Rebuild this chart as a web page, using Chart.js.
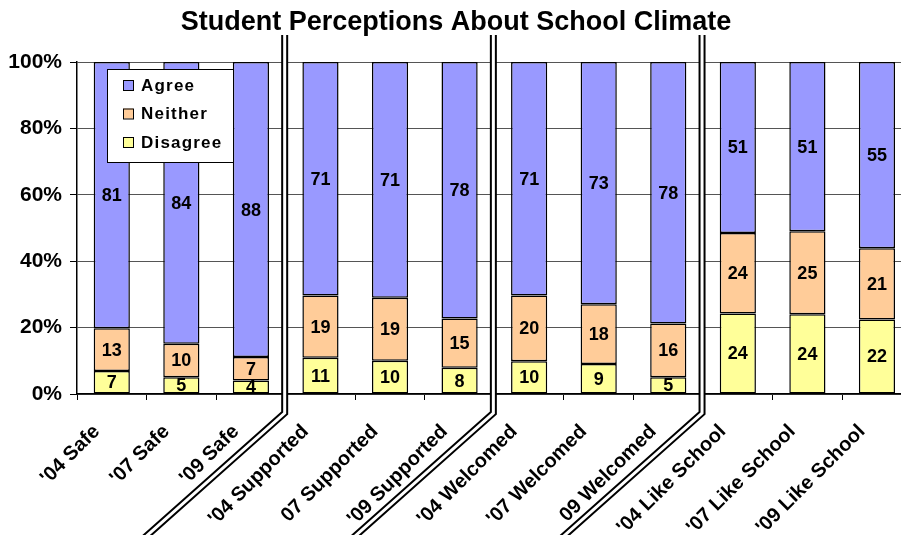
<!DOCTYPE html>
<html lang="en">
<head>
    <meta charset="UTF-8">
    <title>Student Perceptions About School Climate</title>
    <script src="https://cdn.jsdelivr.net/npm/chart.js"></script>
    <style>
        body {
            margin: 0;
            padding: 0;
            background: #fff;
            overflow: hidden;
        }

        .chart-container {
            width: 914px;
            height: 535px;
        }
    </style>
</head>
<body>
    <div class="chart-container">
        <canvas id="climateChart" width="914" height="535"></canvas>
    </div>

    <script>
        // Survey results (percent of students)
        const categories = ["'04 Safe", "'07 Safe", "'09 Safe", "'04 Supported", "07 Supported", "'09 Supported",
            "'04 Welcomed", "'07 Welcomed", "09 Welcomed", "'04 Like School", "'07 Like School", "'09 Like School"];
        const disagree = [7, 5, 4, 11, 10, 8, 10, 9, 5, 24, 24, 22];
        const neither = [13, 10, 7, 19, 19, 15, 20, 18, 16, 24, 25, 21];
        const agree = [81, 84, 88, 71, 71, 78, 71, 73, 78, 51, 51, 55];
        const groupBreaks = [3, 6, 9]; // double lines before these categories

        // stacked to 100%
        const totals = categories.map((c, i) => disagree[i] + neither[i] + agree[i]);
        const toPct = arr => arr.map((v, i) => v / totals[i] * 100);

        const font = 'Arial, "Liberation Sans", sans-serif';

        // value labels inside each segment
        const valueLabels = {
            id: 'valueLabels',
            afterDatasetsDraw(chart) {
                const ctx = chart.ctx;
                ctx.save();
                ctx.font = 'bold 18px ' + font;
                ctx.fillStyle = '#000';
                ctx.textAlign = 'center';
                ctx.textBaseline = 'middle';
                chart.data.datasets.forEach((ds, di) => {
                    chart.getDatasetMeta(di).data.forEach((bar, i) => {
                        const p = bar.getCenterPoint();
                        ctx.fillText(ds.raw[i], p.x, p.y + 1);
                    });
                });
                ctx.restore();
            }
        };

        // double separator lines between groups
        const separators = {
            id: 'separators',
            afterDraw(chart) {
                const ctx = chart.ctx;
                const x = chart.scales.x;
                const bottom = chart.chartArea.bottom;
                ctx.save();
                groupBreaks.forEach(b => {
                    const px = (x.getPixelForValue(b - 1) + x.getPixelForValue(b)) / 2 - 1;
                    const path = () => {
                        ctx.beginPath();
                        ctx.moveTo(px, 35);
                        ctx.lineTo(px, bottom + 19);
                        ctx.lineTo(px - 200, bottom + 19 + 178);
                    };
                    ctx.lineJoin = 'miter';
                    ctx.strokeStyle = '#000';
                    ctx.lineWidth = 7;
                    path();
                    ctx.stroke();
                    ctx.strokeStyle = '#fff';
                    ctx.lineWidth = 3;
                    path();
                    ctx.stroke();
                });
                ctx.restore();
            }
        };

        // boxed legend inside the plot
        const boxLegend = {
            id: 'boxLegend',
            afterDraw(chart) {
                const ctx = chart.ctx;
                const area = chart.chartArea;
                const left = area.left + 30, top = area.top + 7;
                ctx.save();
                ctx.fillStyle = '#fff';
                ctx.fillRect(left, top, 126, 93);
                ctx.strokeStyle = '#000';
                ctx.lineWidth = 1;
                ctx.strokeRect(left + 0.5, top + 0.5, 126, 93);
                ctx.font = 'bold 17px ' + font;
                ctx.letterSpacing = '1.2px';
                ctx.textBaseline = 'middle';
                const items = chart.data.datasets.slice().reverse();
                items.forEach((ds, i) => {
                    const cy = top + 16 + i * 28.5;
                    ctx.fillStyle = ds.backgroundColor;
                    ctx.fillRect(left + 16, cy - 5, 10, 10);
                    ctx.strokeStyle = '#000';
                    ctx.strokeRect(left + 16.5, cy - 4.5, 10, 10);
                    ctx.fillStyle = '#000';
                    ctx.fillText(ds.label, left + 34, cy + 1);
                });
                ctx.restore();
            }
        };

        const barStyle = {
            borderColor: '#000',
            borderWidth: 1.5,
            borderSkipped: false,
            categoryPercentage: 1,
            barPercentage: 0.52
        };

        new Chart(document.getElementById('climateChart'), {
            type: 'bar',
            data: {
                labels: categories,
                datasets: [
                    { label: 'Disagree', data: toPct(disagree), raw: disagree, backgroundColor: '#FFFF99', ...barStyle },
                    { label: 'Neither', data: toPct(neither), raw: neither, backgroundColor: '#FFCC99', ...barStyle },
                    { label: 'Agree', data: toPct(agree), raw: agree, backgroundColor: '#9999FF', ...barStyle }
                ]
            },
            options: {
                responsive: false,
                animation: false,
                layout: { padding: { left: 0, right: 2, top: 0, bottom: 0 } },
                plugins: {
                    legend: { display: false },
                    tooltip: { enabled: false },
                    title: {
                        display: true,
                        text: 'Student Perceptions About School Climate',
                        color: '#000',
                        font: { family: font, size: 27, weight: 'bold' },
                        padding: { top: 6.8, bottom: 22.8 }
                    }
                },
                scales: {
                    x: {
                        stacked: true,
                        grid: { drawOnChartArea: false, color: '#000', tickLength: 6, offset: true },
                        border: { color: '#000', width: 1.5 },
                        ticks: {
                            color: '#000',
                            minRotation: 45,
                            maxRotation: 45,
                            autoSkip: false,
                            padding: 20,
                            labelOffset: -15,
                            font: { family: font, size: 20, weight: 'bold' }
                        },
                        afterFit: s => { s.height = 141; }
                    },
                    y: {
                        stacked: true,
                        min: 0,
                        max: 100,
                        grid: { color: '#555', tickColor: '#000', tickLength: 7 },
                        border: { color: '#000', width: 1.5 },
                        ticks: {
                            stepSize: 20,
                            color: '#000',
                            padding: 8,
                            font: { family: font, size: 21, weight: 'bold' },
                            callback: v => v + '%'
                        },
                        afterFit: s => { s.width = 77; }
                    }
                }
            },
            plugins: [valueLabels, separators, boxLegend]
        });
    </script>
</body>
</html>
